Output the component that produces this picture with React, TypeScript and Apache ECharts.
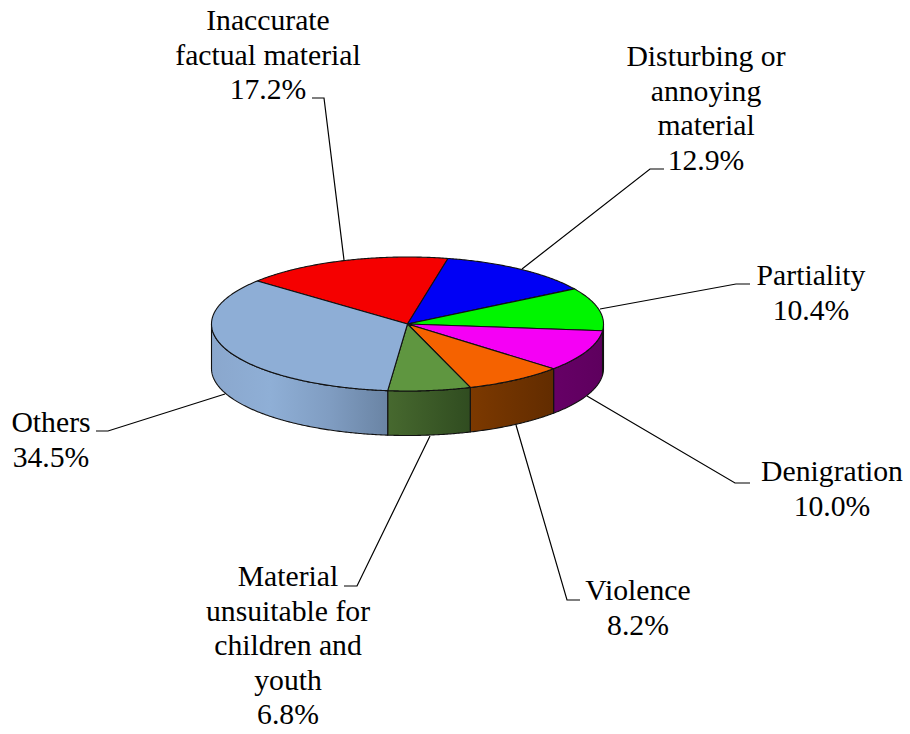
import React, { useEffect, useRef } from "react";
import * as echarts from "echarts";

const CATEGORIES = [
  "Inaccurate\nfactual material",
  "Disturbing or\nannoying\nmaterial",
  "Partiality",
  "Denigration",
  "Violence",
  "Material\nunsuitable for\nchildren and\nyouth",
  "Others",
];
const VALUES = [17.2, 12.9, 10.4, 10.0, 8.2, 6.8, 34.5];

const TOP_COLORS = ["#f50000", "#0000f5", "#00f500", "#f500f5", "#f56200", "#5f9640", "#8eaed6"];
const WALL_STOPS: string[][] = [
  ["#7a0000", "#7a0000"],
  ["#00007a", "#00007a"],
  ["#007a00", "#006200"],
  ["#660066", "#5e005e"],
  ["#7c3900", "#622c00"],
  ["#47692f", "#304c20"],
  ["#8aa7cd", "#8fafd6", "#809dc2", "#6a84a4"],
];

const CX = 407.5;
const CY = 324;
const RX = 196;
const RY = 67;
const DEPTH = 44.5;
const START_ANGLE = 140;

const LABEL_POS = [
  { x: 268, y: 3 },
  { x: 706, y: 39 },
  { x: 811, y: 258 },
  { x: 832, y: 454 },
  { x: 638, y: 573 },
  { x: 288, y: 559 },
  { x: 51, y: 405 },
];
const LEADERS = [
  [[312, 98], [324, 98], [344, 260]],
  [[664, 169], [650, 169], [522, 269]],
  [[750, 284], [736, 284], [600, 309]],
  [[750, 483], [735, 483], [587, 396]],
  [[580, 600], [567, 600], [516, 425]],
  [[344, 586], [357, 586], [430, 436]],
  [[96, 431], [108, 431], [225, 394]],
];

const FONT = '"Liberation Serif", "Times New Roman", serif';

function pt(deg: number, dy = 0): number[] {
  const r = (deg * Math.PI) / 180;
  return [CX + RX * Math.cos(r), CY - RY * Math.sin(r) + dy];
}

function arc(from: number, to: number, dy = 0): number[][] {
  const n = Math.max(2, Math.ceil(Math.abs(from - to) * 2));
  const out: number[][] = [];
  for (let i = 0; i <= n; i++) out.push(pt(from + ((to - from) * i) / n, dy));
  return out;
}

function renderSlice(params: any, api: any) {
  const i = params.dataIndex;
  const total = VALUES.reduce((a, b) => a + b, 0);
  let before = 0;
  for (let k = 0; k < i; k++) before += VALUES[k];
  const a0 = START_ANGLE - (before / total) * 360;
  const a1 = a0 - (api.value(0) / total) * 360;
  const children: any[] = [];
  const edge = { stroke: "#111111", lineWidth: 1.1, lineJoin: "round" };

  // the visible wall is the part of the rim in the front half (angles 0 to -180)
  const w0 = Math.min(a0, 0);
  const w1 = Math.max(a1, -180);
  if (w0 > w1) {
    const stops = WALL_STOPS[i];
    children.push({
      type: "polygon",
      shape: { points: [...arc(w0, w1), ...arc(w1, w0, DEPTH)] },
      style: {
        ...edge,
        fill: {
          type: "linear",
          x: 0,
          y: 0,
          x2: 1,
          y2: 0,
          colorStops: stops.map((color, s) => ({ offset: s / (stops.length - 1), color })),
        },
      },
    });
  }
  children.push({
    type: "polygon",
    shape: { points: [[CX, CY], ...arc(a0, a1)] },
    style: { ...edge, fill: TOP_COLORS[i] },
  });
  return { type: "group", children };
}

export default function App() {
  const ref = useRef<HTMLDivElement>(null);
  useEffect(() => {
    const chart = echarts.init(ref.current!, undefined, { renderer: "svg" });
    chart.setOption({
      animation: false,
      backgroundColor: "#ffffff",
      graphic: [
        ...LEADERS.map((points) => ({
          type: "polyline",
          z: 1,
          shape: { points },
          style: { stroke: "#000000", lineWidth: 1.2, fill: "none" },
        })),
        ...CATEGORIES.map((c, i) => ({
          type: "text",
          z: 5,
          x: LABEL_POS[i].x,
          y: LABEL_POS[i].y,
          style: {
            text: `${c}\n${VALUES[i].toFixed(1)}%`,
            font: `29.7px ${FONT}`,
            fill: "#000000",
            align: "center",
            verticalAlign: "top",
            lineHeight: 34.5,
          },
        })),
      ],
      series: [
        {
          type: "custom",
          coordinateSystem: "none",
          z: 3,
          silent: true,
          clip: false,
          renderItem: renderSlice,
          data: VALUES.map((v) => [v]),
        },
      ],
    });
    return () => chart.dispose();
  }, []);
  return <div ref={ref} style={{ position: "absolute", left: 0, top: 0, width: 910, height: 734 }} />;
}
